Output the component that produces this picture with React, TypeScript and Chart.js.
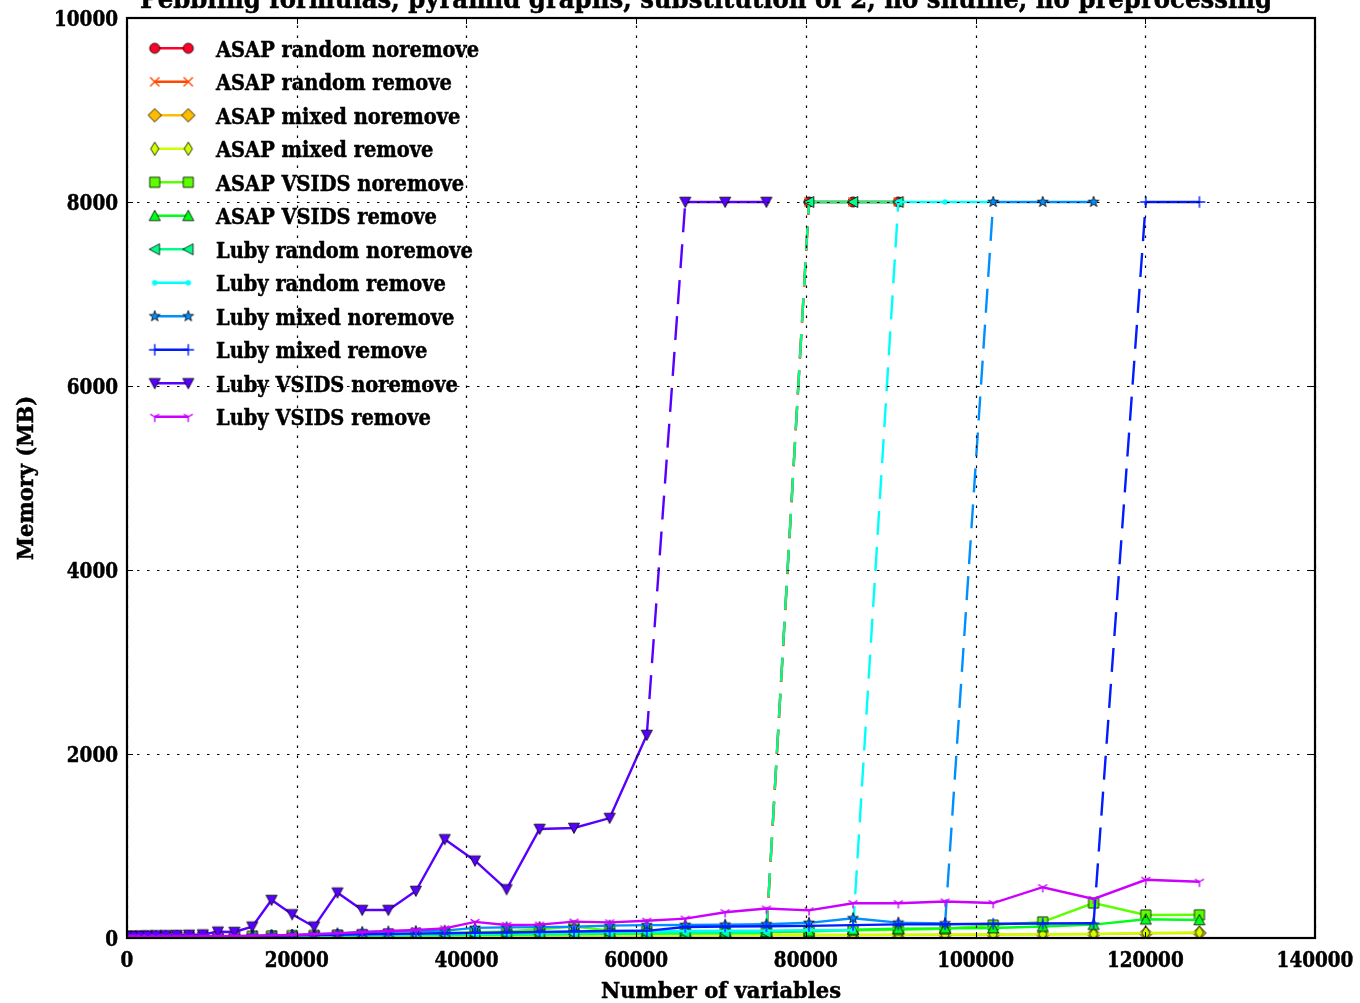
import React, { useEffect, useRef } from 'react';
import { Chart, registerables } from 'chart.js';

Chart.register(...registerables);

// ---------------- data ----------------
const numVariables = [
  20, 182, 506, 992, 1640, 2450, 3422, 4556, 5852, 7310,
  8930, 10712, 12656, 14762, 17030, 19460, 22052, 24806, 27722, 30800,
  34040, 37442, 41006, 44732, 48620, 52670, 56882, 61256, 65792, 70490,
  75350, 80372, 85556, 90902, 96410, 102080, 107912, 113906, 120062, 126380,
];

const asapRandomNoremove = [
  3, 4, 5, 6, 7, 8, 9, 10, 11, 12, 13, 14, 15, 17, 19, 21, 23, 25, 27, 29,
  31, 33, 35, 37, 39, 41, 43, 45, 47, 49, 50, 8000, 8000, 8000,
];
const asapRandomRemove = [
  3, 4, 4, 5, 6, 7, 8, 9, 10, 11, 12, 13, 14, 16, 18, 20, 22, 24, 26, 28,
  30, 32, 34, 36, 38, 40, 42, 44, 46, 47, 48, 8000, 8000, 8000,
];
const asapMixedNoremove = [
  2, 3, 3, 4, 5, 6, 7, 8, 9, 10, 11, 12, 13, 14, 15, 16, 17, 18, 19, 20,
  21, 22, 23, 24, 25, 26, 27, 28, 29, 30, 31, 32, 33, 34, 36, 38, 40, 42, 50, 55,
];
const asapMixedRemove = [
  2, 3, 4, 5, 6, 7, 8, 9, 10, 11, 12, 13, 14, 15, 16, 17, 18, 19, 20, 21,
  22, 23, 24, 25, 26, 27, 28, 29, 30, 31, 32, 33, 34, 35, 37, 39, 41, 43, 56, 60,
];
const asapVsidsNoremove = [
  3, 4, 5, 6, 7, 8, 9, 10, 11, 12, 14, 16, 18, 20, 23, 26, 29, 33, 37, 42,
  48, 55, 62, 70, 95, 125, 80, 74, 74, 72, 74, 80, 85, 90, 100, 140, 175, 380, 250, 252,
];
const asapVsidsRemove = [
  3, 4, 5, 6, 7, 8, 9, 10, 11, 12, 13, 14, 15, 17, 19, 21, 23, 25, 27, 29,
  31, 33, 35, 38, 41, 44, 47, 50, 55, 60, 65, 70, 90, 100, 105, 108, 125, 145, 203, 196,
];
const lubyRandomNoremove = [
  3, 4, 5, 6, 7, 8, 9, 10, 11, 12, 13, 14, 15, 17, 19, 21, 23, 25, 27, 29,
  31, 33, 35, 37, 39, 42, 45, 48, 50, 52, 55, 8000, 8000, 8000,
];
const lubyRandomRemove = [
  3, 4, 5, 6, 7, 8, 9, 10, 11, 12, 13, 15, 17, 19, 22, 25, 28, 32, 36, 40,
  44, 48, 52, 56, 60, 64, 68, 72, 76, 78, 80, 84, 85, 8000, 8000, 8000,
];
const lubyMixedNoremove = [
  4, 5, 6, 7, 8, 9, 10, 11, 12, 13, 15, 17, 19, 22, 26, 30, 40, 50, 65, 70,
  75, 80, 110, 115, 118, 122, 135, 140, 142, 145, 150, 165, 214, 167, 159, 8000, 8000, 8000,
];
const lubyMixedRemove = [
  3, 4, 5, 6, 7, 8, 9, 10, 11, 12, 14, 16, 18, 20, 24, 28, 32, 36, 40, 44,
  48, 52, 56, 60, 65, 70, 76, 78, 120, 125, 128, 132, 140, 148, 150, 155, 158, 160, 8000, 8000,
];
const lubyVsidsNoremove = [
  15, 18, 20, 22, 24, 26, 28, 30, 32, 34, 38, 68, 65, 123, 413, 257, 123, 493, 304, 304,
  511, 1073, 840, 529, 1185, 1196, 1304, 2207, 8000, 8000, 8000,
];
const lubyVsidsRemove = [
  4, 5, 7, 8, 9, 10, 12, 13, 15, 16, 18, 20, 22, 25, 28, 33, 40, 50, 62, 76,
  87, 105, 175, 141, 145, 178, 170, 188, 210, 280, 320, 300, 378, 378, 397, 380, 552, 424, 633, 612,
];

const seriesNames = [
  'ASAP random noremove',
  'ASAP random remove',
  'ASAP mixed noremove',
  'ASAP mixed remove',
  'ASAP VSIDS noremove',
  'ASAP VSIDS remove',
  'Luby random noremove',
  'Luby random remove',
  'Luby mixed noremove',
  'Luby mixed remove',
  'Luby VSIDS noremove',
  'Luby VSIDS remove',
];
const seriesValues = [
  asapRandomNoremove, asapRandomRemove, asapMixedNoremove, asapMixedRemove,
  asapVsidsNoremove, asapVsidsRemove, lubyRandomNoremove, lubyRandomRemove,
  lubyMixedNoremove, lubyMixedRemove, lubyVsidsNoremove, lubyVsidsRemove,
];

const xTicks = [0, 20000, 40000, 60000, 80000, 100000, 120000, 140000];
const yTicks = [0, 2000, 4000, 6000, 8000, 10000];
const titleText = 'Pebbling formulas, pyramid graphs, substitution of 2, no shuffle, no preprocessing';
const xTitle = 'Number of variables';
const yTitle = 'Memory (MB)';
const failValue = 8000;

// ---------------- styles ----------------
const colors = [
  '#ff0029', '#ff4900', '#ffbc00', '#cfff00', '#5cff00', '#00ff17',
  '#00ff89', '#00fffb', '#008fff', '#001cff', '#5800ff', '#cb00ff',
];
const markerKinds = ['o', 'x', 'D', 'd', 's', '^', '<', '.', '*', '+', 'v', '1'];
const FONT = '"DejaVu Serif"';
const MK = 1.15;

function makeMarker(kind: string, color: string): HTMLCanvasElement {
  const s = 24;
  const c = document.createElement('canvas');
  c.width = s;
  c.height = s;
  const g = c.getContext('2d')!;
  g.translate(s / 2, s / 2);
  g.scale(MK, MK);
  const edge = () => {
    g.fillStyle = color;
    g.fill();
    g.lineWidth = 0.8 / MK;
    g.strokeStyle = '#000';
    g.stroke();
  };
  const lines = (w: number) => {
    g.strokeStyle = color;
    g.lineWidth = w / MK;
    g.stroke();
  };
  g.beginPath();
  switch (kind) {
    case 'o':
      g.arc(0, 0, 4.4, 0, Math.PI * 2);
      edge();
      break;
    case 'x':
      g.moveTo(-4, -4); g.lineTo(4, 4); g.moveTo(-4, 4); g.lineTo(4, -4);
      lines(1.4);
      break;
    case 'D':
      g.moveTo(0, -5.8); g.lineTo(5.8, 0); g.lineTo(0, 5.8); g.lineTo(-5.8, 0); g.closePath();
      edge();
      break;
    case 'd':
      g.moveTo(0, -5.8); g.lineTo(3.6, 0); g.lineTo(0, 5.8); g.lineTo(-3.6, 0); g.closePath();
      edge();
      break;
    case 's':
      g.rect(-4.4, -4.4, 8.8, 8.8);
      edge();
      break;
    case '^':
      g.moveTo(0, -4.8); g.lineTo(4.8, 4.2); g.lineTo(-4.8, 4.2); g.closePath();
      edge();
      break;
    case 'v':
      g.moveTo(0, 4.8); g.lineTo(4.8, -4.2); g.lineTo(-4.8, -4.2); g.closePath();
      edge();
      break;
    case '<':
      g.moveTo(-4.8, 0); g.lineTo(4.2, -4.8); g.lineTo(4.2, 4.8); g.closePath();
      edge();
      break;
    case '.':
      g.arc(0, 0, 2.4, 0, Math.PI * 2);
      g.fillStyle = color;
      g.fill();
      break;
    case '*': {
      const R = 4.9, r = 2.0;
      for (let k = 0; k < 10; k++) {
        const a = -Math.PI / 2 + (k * Math.PI) / 5;
        const rr = k % 2 === 0 ? R : r;
        if (k === 0) g.moveTo(rr * Math.cos(a), rr * Math.sin(a));
        else g.lineTo(rr * Math.cos(a), rr * Math.sin(a));
      }
      g.closePath();
      edge();
      break;
    }
    case '+':
      g.moveTo(-5, 0); g.lineTo(5, 0); g.moveTo(0, -5); g.lineTo(0, 5);
      lines(1.4);
      break;
    case '1':
      g.moveTo(0, 0); g.lineTo(0, 4.5);
      g.moveTo(0, 0); g.lineTo(-3.9, -2.25);
      g.moveTo(0, 0); g.lineTo(3.9, -2.25);
      lines(1.4);
      break;
  }
  return c;
}

function fitScale(ctx: CanvasRenderingContext2D, font: string, text: string, target: number) {
  ctx.font = font;
  return target / ctx.measureText(text).width;
}

function drawText(
  ctx: CanvasRenderingContext2D, text: string, x: number, y: number,
  font: string, sx: number, align: CanvasTextAlign, rot = 0,
) {
  ctx.save();
  ctx.translate(x, y);
  if (rot) ctx.rotate(rot);
  ctx.scale(sx, 1);
  ctx.font = font;
  ctx.textAlign = align;
  ctx.textBaseline = 'alphabetic';
  ctx.fillStyle = '#000';
  ctx.strokeStyle = '#000';
  ctx.lineWidth = 0.5;
  ctx.fillText(text, 0, 0);
  ctx.strokeText(text, 0, 0);
  ctx.restore();
}

const App = () => {
  const ref = useRef<HTMLCanvasElement>(null);

  useEffect(() => {
    const canvas = ref.current!;
    const markers = markerKinds.map((k, i) => makeMarker(k, colors[i]));

    const datasets = seriesValues.map((vals, i) => ({
      label: seriesNames[i],
      data: vals
        .map((y, j) => ({ x: numVariables[j], y }))
        .filter((p) => p.y !== null && p.y !== undefined),
      borderColor: colors[i],
      backgroundColor: colors[i],
      borderWidth: 2.4,
      pointStyle: markers[i],
      pointRadius: 5,
      pointHoverRadius: 5,
      tension: 0,
      order: seriesValues.length - i,
      segment: {
        borderDash: (ctx: any) =>
          ctx.p1.parsed.y >= failValue && ctx.p0.parsed.y < failValue ? [24, 12] : undefined,
      },
    }));

    const decor = {
      id: 'decor',
      afterDatasetsDraw(chart: any) {
        const ctx: CanvasRenderingContext2D = chart.ctx;
        const { left, right, top, bottom } = chart.chartArea;
        const xs = chart.scales.x;
        const ys = chart.scales.y;

        ctx.save();
        // grid (dotted, drawn over the lines)
        ctx.strokeStyle = '#000';
        ctx.lineWidth = 1.2;
        ctx.setLineDash([2.5, 7.5]);
        xTicks.forEach((v) => {
          const px = Math.round(xs.getPixelForValue(v)) + 0.5;
          ctx.beginPath();
          ctx.moveTo(px, bottom);
          ctx.lineTo(px, top);
          ctx.stroke();
        });
        yTicks.forEach((v) => {
          const py = Math.round(ys.getPixelForValue(v)) + 0.5;
          ctx.beginPath();
          ctx.moveTo(left, py);
          ctx.lineTo(right, py);
          ctx.stroke();
        });
        ctx.setLineDash([]);

        // inward ticks
        ctx.lineWidth = 1;
        xTicks.forEach((v) => {
          const px = Math.round(xs.getPixelForValue(v)) + 0.5;
          ctx.beginPath();
          ctx.moveTo(px, bottom); ctx.lineTo(px, bottom - 6);
          ctx.moveTo(px, top); ctx.lineTo(px, top + 6);
          ctx.stroke();
        });
        yTicks.forEach((v) => {
          const py = Math.round(ys.getPixelForValue(v)) + 0.5;
          ctx.beginPath();
          ctx.moveTo(left, py); ctx.lineTo(left + 6, py);
          ctx.moveTo(right, py); ctx.lineTo(right - 6, py);
          ctx.stroke();
        });

        // frame
        ctx.lineWidth = 2.2;
        ctx.strokeRect(left, top, right - left, bottom - top);

        // tick labels
        const tickFont = `bold 22px ${FONT}`;
        const tickSx = fitScale(ctx, tickFont, '20000', 64);
        xTicks.forEach((v) => {
          drawText(ctx, String(v), xs.getPixelForValue(v), 967, tickFont, tickSx, 'center');
        });
        yTicks.forEach((v) => {
          drawText(ctx, String(v), 118, ys.getPixelForValue(v) + 8, tickFont, tickSx, 'right');
        });

        // axis titles
        const axFont = `bold 22px ${FONT}`;
        const axSx = fitScale(ctx, axFont, xTitle, 240);
        drawText(ctx, xTitle, (left + right) / 2, 998, axFont, axSx, 'center');
        drawText(ctx, yTitle, 33, (top + bottom) / 2, axFont, axSx, 'center', -Math.PI / 2);

        // title (mostly above the canvas)
        const tFont = `bold 26px ${FONT}`;
        const tSx = fitScale(ctx, tFont, titleText, 1132);
        drawText(ctx, titleText, 706, 8, tFont, tSx, 'center');

        // legend
        const lFont = `bold 22px ${FONT}`;
        const lSx = fitScale(ctx, lFont, seriesNames[0], 263);
        seriesNames.forEach((name, i) => {
          const y = 48.3 + 33.5 * i;
          ctx.strokeStyle = colors[i];
          ctx.lineWidth = 2.4;
          ctx.beginPath();
          ctx.moveTo(154.7, y);
          ctx.lineTo(188.3, y);
          ctx.stroke();
          const m = markers[i];
          ctx.drawImage(m, 154.7 - m.width / 2, y - m.height / 2);
          ctx.drawImage(m, 188.3 - m.width / 2, y - m.height / 2);
          drawText(ctx, name, 216, y + 8.5, lFont, lSx, 'left');
        });
        ctx.restore();
      },
    };

    const chart = new Chart(canvas, {
      type: 'line',
      data: { datasets } as any,
      options: {
        responsive: false,
        animation: false,
        devicePixelRatio: 1,
        events: [],
        layout: { padding: { left: 127, right: 45, top: 18, bottom: 65 } },
        scales: {
          x: { type: 'linear', min: 0, max: 140000, display: false },
          y: { type: 'linear', min: 0, max: 10000, display: false },
        },
        plugins: {
          legend: { display: false },
          title: { display: false },
          tooltip: { enabled: false },
        },
      } as any,
      plugins: [decor],
    });
    return () => chart.destroy();
  }, []);

  return (
    <div style={{ position: 'fixed', left: 0, top: 0, width: 1360, height: 1003, background: '#fff' }}>
      <canvas ref={ref} width={1360} height={1003} style={{ display: 'block' }} />
    </div>
  );
};

export default App;
